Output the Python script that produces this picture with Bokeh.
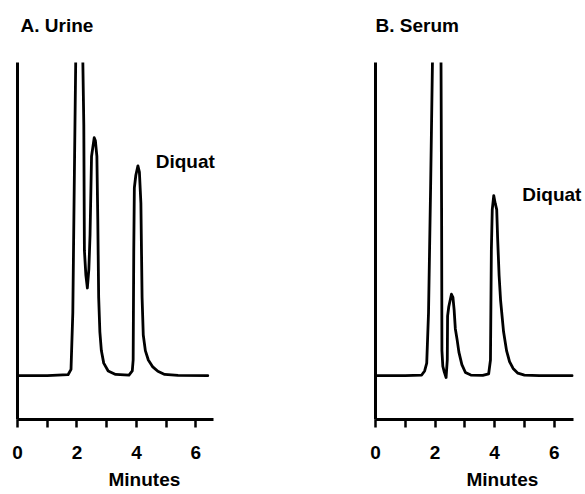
from bokeh.plotting import figure
from bokeh.models import FixedTicker, Label, Range1d, Title
from bokeh.layouts import row
from bokeh.embed import file_html
from bokeh.resources import INLINE

# ---- data (time in minutes, detector signal in % of recorder full scale) ----
time_a = [0.00, 1.00, 1.70, 1.80, 1.86, 1.92, 1.97, 2.05, 2.13, 2.19, 2.23, 2.25,
          2.30, 2.35, 2.40, 2.44, 2.49, 2.58, 2.62, 2.67, 2.70, 2.73, 2.77, 2.82,
          2.90, 3.05, 3.30, 3.75, 3.86, 3.89, 3.91, 3.93, 3.98, 4.05, 4.10, 4.15,
          4.19, 4.23, 4.30, 4.40, 4.55, 4.72, 4.95, 5.40, 6.40]
signal_a = [0.0, 0.0, 0.3, 2.0, 20.0, 70.0, 110.0, 140.0, 110.0, 105.0, 80.0, 40.0,
            32.0, 28.0, 34.0, 45.0, 70.0, 76.0, 75.0, 70.0, 50.0, 25.0, 14.0, 8.0,
            4.0, 1.5, 0.4, 0.2, 1.5, 5.0, 40.0, 60.0, 64.0, 67.0, 65.0, 55.0,
            25.0, 13.0, 8.0, 5.0, 2.8, 1.4, 0.4, 0.1, 0.0]

time_b = [0.00, 1.00, 1.55, 1.65, 1.72, 1.78, 1.85, 1.92, 2.00, 2.10, 2.20, 2.22,
          2.23, 2.26, 2.30, 2.37, 2.41, 2.42, 2.46, 2.55, 2.60, 2.64, 2.68, 2.74,
          2.80, 2.90, 3.02, 3.20, 3.60, 3.80, 3.86, 3.89, 3.92, 3.97, 4.02, 4.07,
          4.10, 4.15, 4.20, 4.30, 4.40, 4.50, 4.62, 4.78, 5.00, 5.50, 6.60]
signal_b = [0.0, 0.0, 0.2, 1.5, 4.0, 20.0, 60.0, 105.0, 140.0, 120.0, 100.0, 50.0,
            8.0, 3.0, 1.5, -0.6, 5.0, 19.0, 22.0, 26.0, 25.0, 21.0, 15.0, 11.5,
            7.5, 3.5, 1.0, 0.2, 0.1, 0.6, 5.0, 40.0, 53.0, 57.5, 55.0, 53.0,
            44.0, 32.0, 24.0, 14.0, 8.0, 4.5, 2.3, 0.8, 0.2, 0.0, 0.0]

major_ticks = [0, 1, 2, 3, 4, 5, 6]
tick_labels = {0: "0", 1: "", 2: "2", 3: "", 4: "4", 5: "", 6: "6"}
titles = ["A. Urine", "B. Serum"]
peak_name = "Diquat"
x_label = "Minutes"

FONT = "Liberation Sans"
FSIZE = "19px"


def text_style():
    return dict(text_font=FONT, text_font_style="bold",
                text_font_size=FSIZE, text_color="black")


def make_panel(t, s, title, title_off, peak_x, peak_y, minutes_off,
               axis_end, xmax, width, left, right):
    p = figure(width=width, height=494,
               x_range=Range1d(0, xmax), y_range=Range1d(-14, 100),
               output_backend="svg", toolbar_location=None,
               min_border_left=left, min_border_right=right,
               min_border_top=62, min_border_bottom=74)
    p.title.visible = False
    p.outline_line_color = None
    p.xgrid.visible = False
    p.ygrid.visible = False
    p.background_fill_color = "white"
    p.border_fill_color = "white"

    # spacer panel between the plot frame and the panel title
    p.add_layout(Title(text=" ", text_font_size="1px", standoff=24), "above")
    p.add_layout(Title(text=title, align="left", offset=title_off,
                       standoff=0, **text_style()), "above")

    p.line(t, s, line_color="black", line_width=2.8,
           line_join="round", line_cap="round")

    xa = p.xaxis[0]
    xa.bounds = (0, axis_end)
    xa.ticker = FixedTicker(ticks=major_ticks)
    xa.major_label_overrides = tick_labels
    xa.axis_line_width = 3
    xa.axis_line_color = "black"
    xa.major_tick_line_width = 2.5
    xa.major_tick_out = 8
    xa.major_tick_in = 0
    xa.minor_tick_out = 0
    xa.minor_tick_in = 0
    xa.major_label_standoff = 18
    xa.major_label_text_font = FONT
    xa.major_label_text_font_style = "bold"
    xa.major_label_text_font_size = FSIZE
    xa.major_label_text_color = "black"

    ya = p.yaxis[0]
    ya.ticker = FixedTicker(ticks=[])
    ya.axis_line_width = 3
    ya.axis_line_color = "black"
    ya.major_tick_out = 0
    ya.major_tick_in = 0
    ya.minor_tick_out = 0
    ya.minor_tick_in = 0
    ya.major_label_standoff = 0
    ya.major_label_text_font_size = "0px"

    p.add_layout(Title(text=x_label, align="left", offset=minutes_off,
                       standoff=10, **text_style()), "below")

    p.add_layout(Label(x=peak_x, y=peak_y, text=peak_name, text_align="left",
                       text_baseline="middle", **text_style()))
    return p


pa = make_panel(time_a, signal_a, titles[0], 3, 4.65, 68.3, 91,
                6.6, 7.5, 298, 17, 58)
pb = make_panel(time_b, signal_b, titles[1], 0, 4.93, 57.8, 91,
                6.65, 6.95, 286, 77, 2)

layout = row(pa, pb)
open("out.html", "w").write(file_html(layout, INLINE))
